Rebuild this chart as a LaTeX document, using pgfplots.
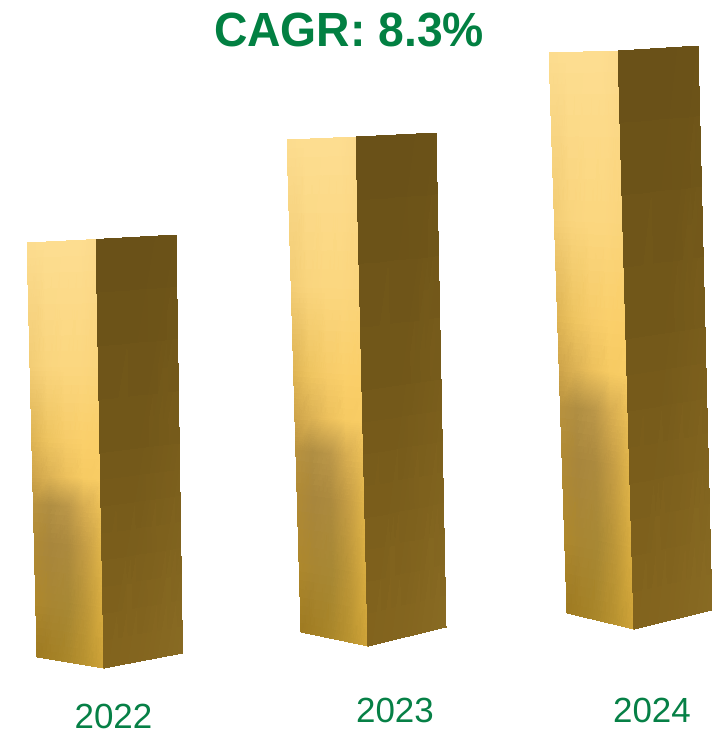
\documentclass[border=0pt]{standalone}
\usepackage{fontspec}
\setmainfont{Liberation Sans}
\usepackage{pgfplots}
\usepackage{pgfplotstable}
\pgfplotsset{compat=1.18}
\definecolor{titlegreen}{RGB}{2,128,66}
\definecolor{labelgreen}{RGB}{6,128,70}

% Colour lattice of the lit face: u runs across the face, v from top to bottom
\pgfplotstableread{
u v c
0.00 0.00 rgb255=252,220,142
0.25 0.00 rgb255=253,221,144
0.50 0.00 rgb255=253,221,144
0.75 0.00 rgb255=253,221,144
1.00 0.00 rgb255=252,218,140
0.00 0.30 rgb255=242,204,116
0.25 0.30 rgb255=249,212,124
0.50 0.30 rgb255=251,214,126
0.75 0.30 rgb255=251,214,126
1.00 0.30 rgb255=250,212,122
0.00 0.47 rgb255=222,180,84
0.25 0.47 rgb255=238,196,96
0.50 0.47 rgb255=246,203,104
0.75 0.47 rgb255=250,207,106
1.00 0.47 rgb255=250,206,104
0.00 0.56 rgb255=206,164,74
0.25 0.56 rgb255=220,178,84
0.50 0.56 rgb255=236,192,92
0.75 0.56 rgb255=246,202,98
1.00 0.56 rgb255=248,204,100
0.00 0.63 rgb255=184,146,62
0.25 0.63 rgb255=176,142,66
0.50 0.63 rgb255=186,150,72
0.75 0.63 rgb255=214,172,80
1.00 0.63 rgb255=234,190,86
0.00 0.72 rgb255=176,138,52
0.25 0.72 rgb255=168,134,60
0.50 0.72 rgb255=172,138,62
0.75 0.72 rgb255=196,156,68
1.00 0.72 rgb255=224,180,74
0.00 0.86 rgb255=174,136,44
0.25 0.86 rgb255=168,134,50
0.50 0.86 rgb255=168,136,52
0.75 0.86 rgb255=188,150,56
1.00 0.86 rgb255=216,172,64
0.00 1.00 rgb255=158,122,32
0.25 1.00 rgb255=164,128,36
0.50 1.00 rgb255=172,136,42
0.75 1.00 rgb255=186,148,48
1.00 1.00 rgb255=206,162,56
}\litface

% Colour lattice of the shaded face
\pgfplotstableread{
u v c
0.00 0.00 rgb255=106,81,24
0.50 0.00 rgb255=106,81,24
1.00 0.00 rgb255=108,83,24
0.00 0.50 rgb255=116,89,26
0.50 0.50 rgb255=116,89,26
1.00 0.50 rgb255=122,94,28
0.00 1.00 rgb255=132,101,30
0.50 1.00 rgb255=134,103,32
1.00 1.00 rgb255=138,108,36
}\shadedface

% Place a face by its corners (image pixels): top left, top right, bottom left, bottom right
\pgfplotsset{
  face corners/.style n args={8}{
    /pgfplots/table/x expr={(1-\thisrow{v})*((1-\thisrow{u})*#1+\thisrow{u}*#3)+\thisrow{v}*((1-\thisrow{u})*#5+\thisrow{u}*#7)},
    /pgfplots/table/y expr={(1-\thisrow{v})*((1-\thisrow{u})*#2+\thisrow{u}*#4)+\thisrow{v}*((1-\thisrow{u})*#6+\thisrow{u}*#8)},
    /pgfplots/table/meta=c
  },
  bar face/.style={surf, shader=interp, mesh/color input=explicit, mesh/ordering=x varies, mesh/cols=#1}
}

\begin{document}
\begin{tikzpicture}
\useasboundingbox (0,0) rectangle (534pt,549pt);
\begin{axis}[
  at={(0,0)}, anchor=south west,
  scale only axis, width=534pt, height=549pt,
  xmin=0, xmax=712, ymin=0, ymax=732, y dir=reverse,
  axis lines=none, clip=false]

  % 2022
  \addplot[bar face=5] table[face corners={27}{243}{96}{239.5}{37}{657}{104}{668}] {\litface};
  \addplot[bar face=3] table[face corners={96}{239.5}{176}{235}{104}{668}{182.5}{653}] {\shadedface};
  % 2023
  \addplot[bar face=5] table[face corners={287}{140}{356}{137}{301}{632}{368}{646}] {\litface};
  \addplot[bar face=3] table[face corners={356}{137}{436}{133}{368}{646}{446}{627}] {\shadedface};
  % 2024
  \addplot[bar face=5] table[face corners={549}{53}{618}{51}{567}{613}{634}{629}] {\litface};
  \addplot[bar face=3] table[face corners={618}{51}{698}{46}{634}{629}{712}{610}] {\shadedface};

  \node[anchor=base, inner sep=0pt, xscale=0.964, text=titlegreen, font=\fontsize{36}{36}\selectfont\bfseries]
    at (axis cs:349,46) {CAGR: 8.3\%};
  \node[anchor=base, inner sep=0pt, text=labelgreen, font=\fontsize{26.2}{26.2}\selectfont]
    at (axis cs:113.5,728.5) {2022};
  \node[anchor=base, inner sep=0pt, text=labelgreen, font=\fontsize{26.2}{26.2}\selectfont]
    at (axis cs:395,722) {2023};
  \node[anchor=base, inner sep=0pt, text=labelgreen, font=\fontsize{26.2}{26.2}\selectfont]
    at (axis cs:652,722) {2024};
\end{axis}
\end{tikzpicture}
\end{document}
